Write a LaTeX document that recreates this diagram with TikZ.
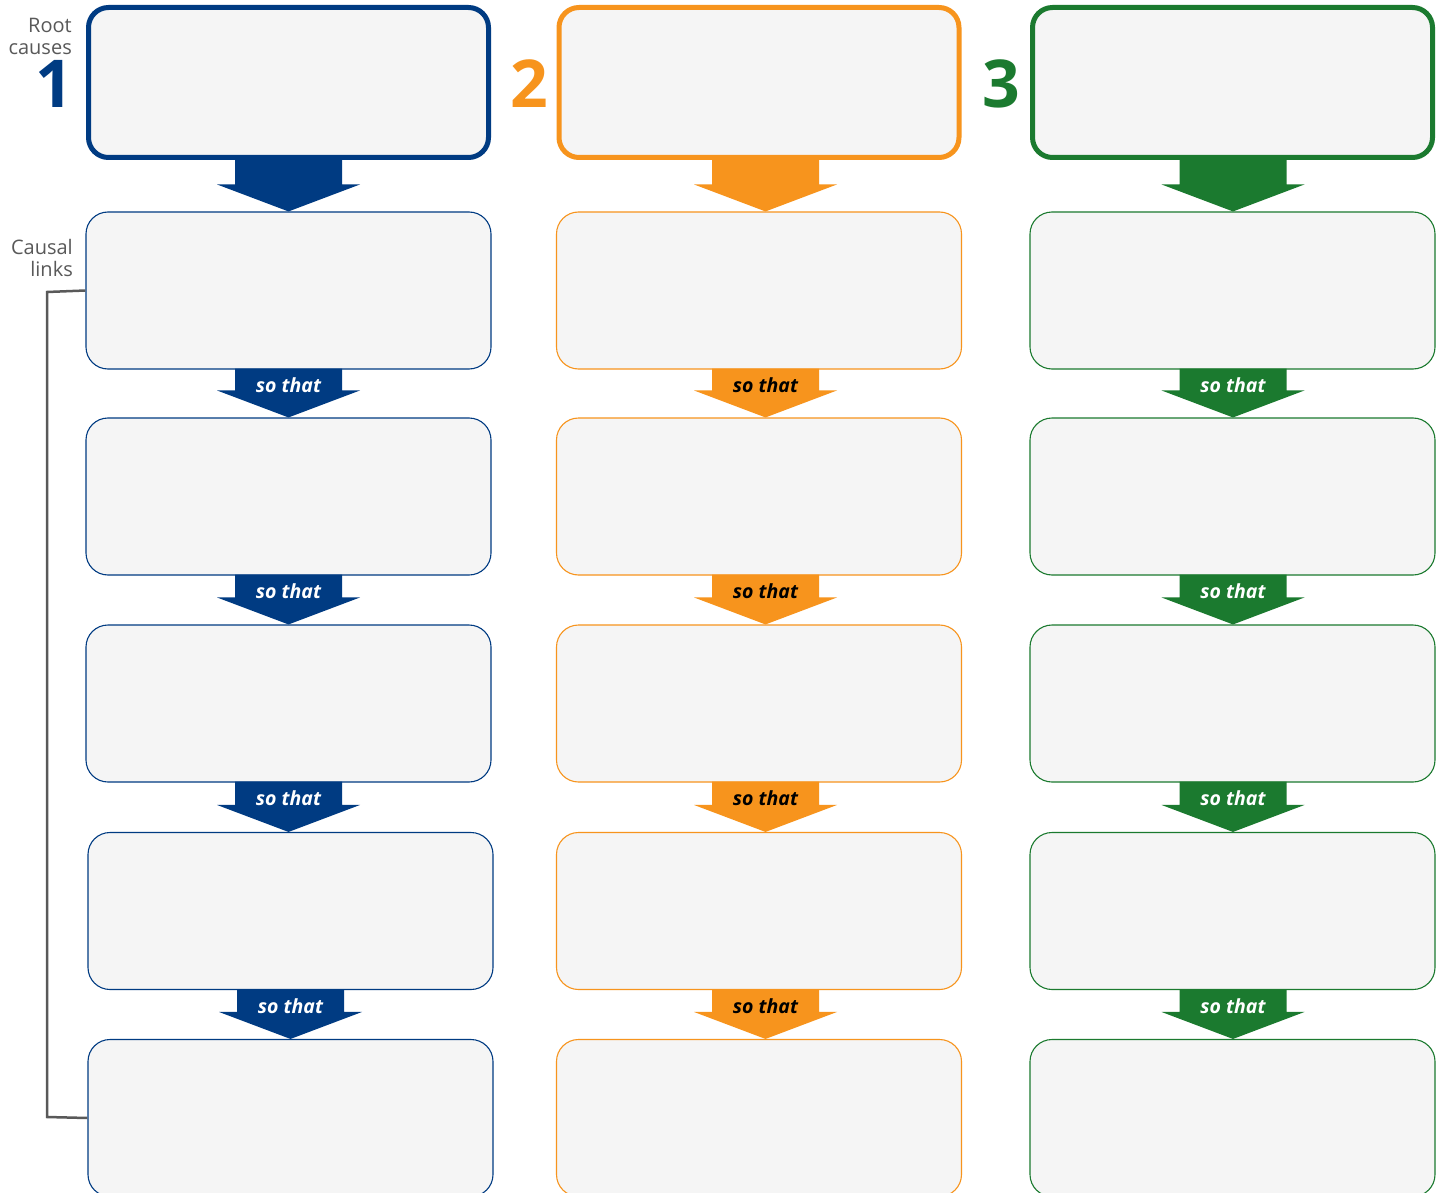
\documentclass[tikz,border=0pt]{standalone}
\usepackage{fontspec}
\setmainfont{Open Sans}
\usetikzlibrary{calc}
\definecolor{cblue}{HTML}{003B82}
\definecolor{corange}{HTML}{F7941D}
\definecolor{cgreen}{HTML}{1B7A2F}
\definecolor{boxfill}{HTML}{F5F5F5}
\definecolor{labelgray}{HTML}{595959}
% \arrowshape{from}{to}{xshift}{color}
\newcommand{\arrowshape}[4]{%
  \fill[#4] ($(#1.south)+(#3-53.5,-1)$) -- ($(#1.south |- #2.north)+(#3-53.5,-27)$) -- ($(#1.south |- #2.north)+(#3-71.5,-27)$)
    -- ($(#1.south |- #2.north)+(#3,0)$) -- ($(#1.south |- #2.north)+(#3+71.5,-27)$) -- ($(#1.south |- #2.north)+(#3+53.5,-27)$)
    -- ($(#1.south)+(#3+53.5,-1)$) -- cycle;}
\begin{document}
\begin{tikzpicture}[x=1pt,y=-1pt,
  box/.style={draw, fill=boxfill, rounded corners=22pt, minimum width=405pt, minimum height=157pt, inner sep=0pt, line width=1.1pt},
  rootbox/.style={box, line width=5pt, minimum width=400pt, minimum height=150pt, rounded corners=20pt},
  sidelabel/.style={text=labelgray, font=\fontsize{20}{22}\selectfont, align=right, anchor=east, inner sep=0pt},
  bignum/.style={font=\fontsize{66}{66}\selectfont\bfseries, anchor=east, inner sep=0pt},
  sothat/.style={font=\fontsize{19.5}{21}\selectfont\bfseries\itshape, inner sep=0pt},
  bracket/.style={draw=labelgray, line width=2.5pt}
]
\clip (0,0) rectangle (1443,1193);
\fill[white] (0,0) rectangle (1443,1193);

\foreach \c/\col/\cx/\cxb/\ax/\txt in {a/cblue/288.5/290.5/0/white, b/corange/759/759/6.5/black, c/cgreen/1232.5/1232.5/0.5/white}{
  \node[rootbox, draw=\col] (\c1) at (\cx,82.5) {};
  \node[box, draw=\col] (\c2) at (\cx,290.5) {};
  \node[box, draw=\col] (\c3) at (\cx,496.5) {};
  \node[box, draw=\col] (\c4) at (\cx,703.5) {};
  \node[box, draw=\col] (\c5) at (\cxb,911) {};
  \node[box, draw=\col] (\c6) at (\cxb,1118) {};
  \arrowshape{\c1}{\c2}{\ax}{\col}
  \foreach \i/\j in {2/3,3/4,4/5,5/6}{
    \arrowshape{\c\i}{\c\j}{\ax}{\col}
    \node[sothat, text=\txt] (st\c\i) at ($(\c\i.south)+(\ax,16)$) {so that};
  }
}

\node[sidelabel] (rootlbl) at (72,36) {Root\\causes};
\node[bignum, text=cblue] (n1) at (73,84) {1};
\node[bignum, text=corange] (n2) at (548,84) {2};
\node[bignum, text=cgreen] (n3) at (1020,84) {3};
\node[sidelabel] (causallbl) at (73,258) {Causal\\links};

\coordinate (bt) at (47,292);
\coordinate (bb) at (47,1117);
\draw[bracket] (a2.west) -- (bt) -- (bb) -- (a6.west);
\end{tikzpicture}
\end{document}
